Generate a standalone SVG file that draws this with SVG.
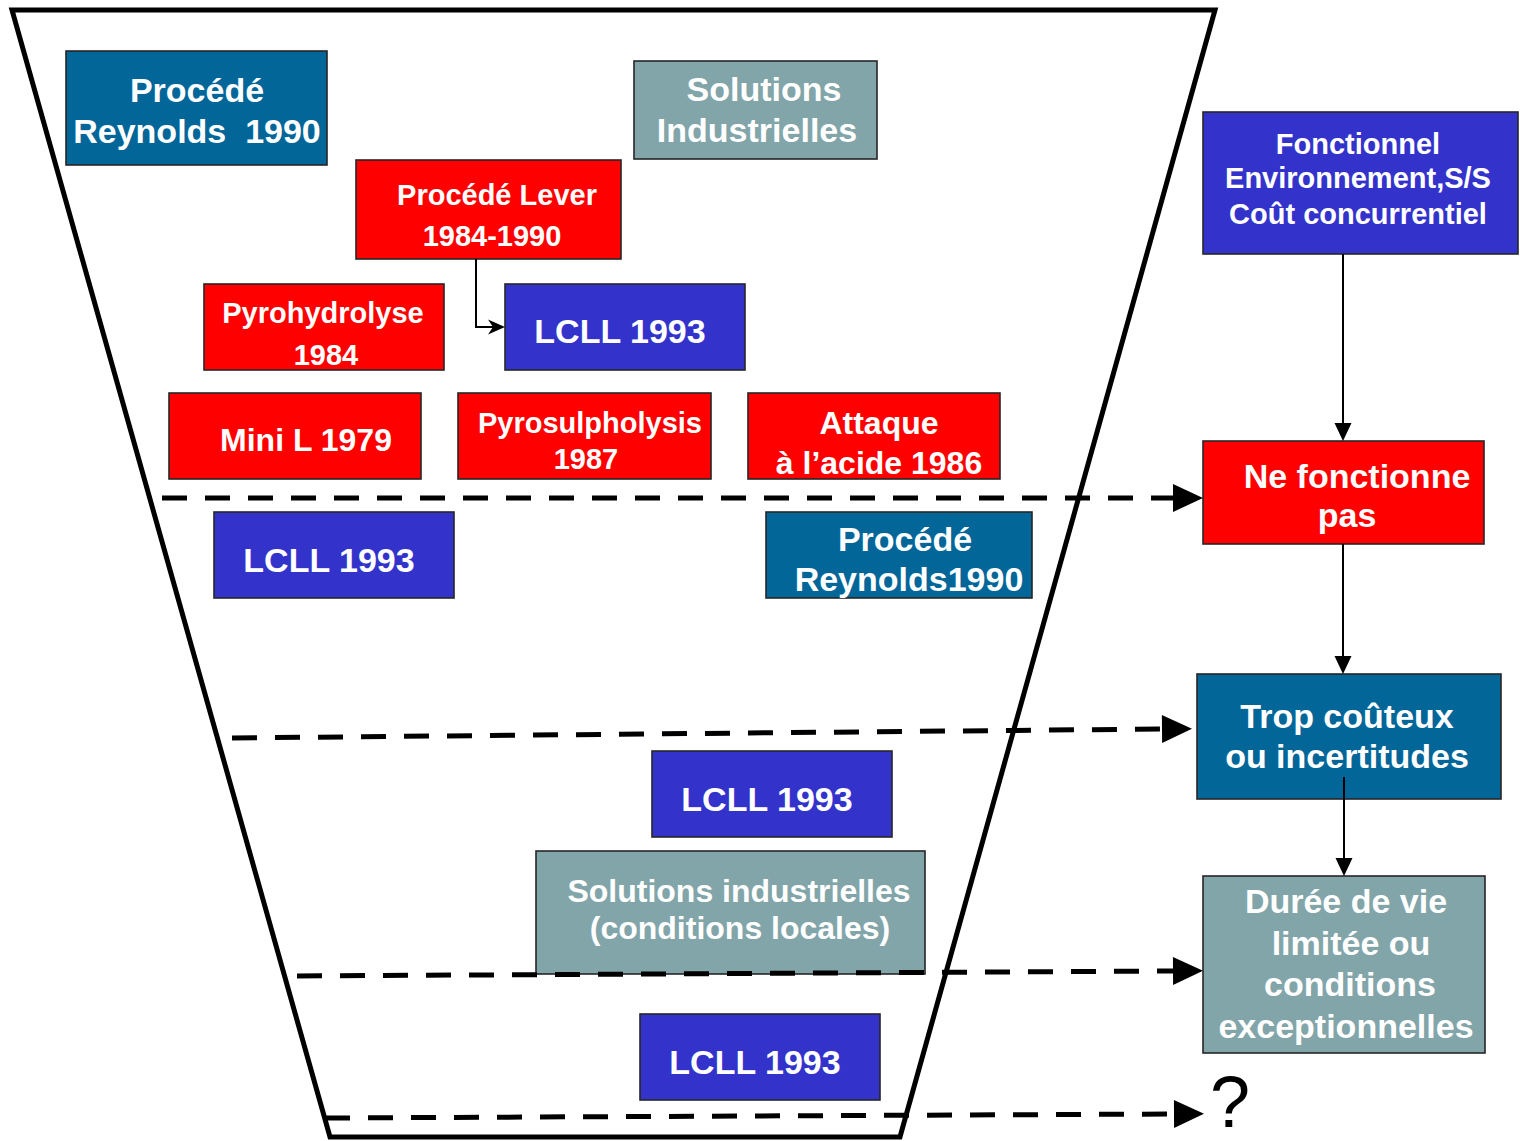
<svg xmlns="http://www.w3.org/2000/svg" width="1520" height="1141" viewBox="0 0 1520 1141">
<style>
.box{stroke:#262626;stroke-width:1.6}
.teal{fill:#036699}
.grey{fill:#82A5AA}
.red{fill:#FF0000}
.blue{fill:#3333CC}
text{font-family:"Liberation Sans",Arial,sans-serif;font-weight:bold;fill:#FFFFFF;text-anchor:middle}
.s29{font-size:29px}
.s32{font-size:32px}
.s34{font-size:34px}
.dash{fill:none;stroke:#000;stroke-width:5;stroke-dasharray:25 18}
.thin{fill:none;stroke:#000;stroke-width:2}
.funnel{fill:none;stroke:#000;stroke-width:5;stroke-linejoin:miter}
</style>
<defs>
<marker id="big" markerUnits="userSpaceOnUse" markerWidth="30" markerHeight="28" refX="0" refY="14" orient="auto" overflow="visible">
<path d="M0,0 L30,14 L0,28 Z" fill="#000"/>
</marker>
<marker id="small" markerUnits="userSpaceOnUse" markerWidth="18" markerHeight="17" refX="0" refY="8.5" orient="auto" overflow="visible">
<path d="M0,0 L18,8.5 L0,17 Z" fill="#000"/>
</marker>
<marker id="stealth" markerUnits="userSpaceOnUse" markerWidth="17" markerHeight="15" refX="5" refY="7.5" orient="auto" overflow="visible">
<path d="M0,0 L17,7.5 L0,15 L5,7.5 Z" fill="#000"/>
</marker>
</defs>
<rect width="1520" height="1141" fill="#FFFFFF"/>

<g id="funnel">
<polygon class="funnel" points="12,10 1215,10 900,1137 330,1137"/>
</g>

<g id="n-reynolds-top">
<rect class="box teal" x="66" y="51" width="261" height="114"/>
<text class="s34" x="197" y="102">Procédé</text>
<text class="s34" x="197" y="143" xml:space="preserve">Reynolds  1990</text>
</g>
<g id="n-solutions-top">
<rect class="box grey" x="634" y="61" width="243" height="98"/>
<text class="s34" x="764" y="101">Solutions</text>
<text class="s34" x="757" y="142">Industrielles</text>
</g>
<g id="n-lever">
<rect class="box red" x="356" y="160" width="265" height="99"/>
<text class="s29" x="497" y="205">Procédé Lever</text>
<text class="s29" x="492" y="246">1984-1990</text>
</g>
<g id="n-lcll-1">
<rect class="box blue" x="505" y="284" width="240" height="86"/>
<text class="s34" x="620" y="343">LCLL 1993</text>
</g>
<g id="n-pyrohydrolyse">
<rect class="box red" x="204" y="284" width="240" height="86"/>
<text class="s29" x="323" y="323">Pyrohydrolyse</text>
<text class="s29" x="326" y="365">1984</text>
</g>
<g id="n-minil">
<rect class="box red" x="169" y="393" width="252" height="86"/>
<text class="s32" x="306" y="451">Mini L 1979</text>
</g>
<g id="n-pyrosulpholysis">
<rect class="box red" x="458" y="393" width="253" height="86"/>
<text class="s29" x="590" y="433">Pyrosulpholysis</text>
<text class="s29" x="586" y="469">1987</text>
</g>
<g id="n-attaque">
<rect class="box red" x="748" y="393" width="252" height="86"/>
<text class="s32" x="879" y="434">Attaque</text>
<text class="s32" x="879" y="474">à l’acide 1986</text>
</g>
<g id="n-lcll-2">
<rect class="box blue" x="214" y="512" width="240" height="86"/>
<text class="s34" x="329" y="572">LCLL 1993</text>
</g>
<g id="n-reynolds-mid">
<rect class="box teal" x="766" y="512" width="266" height="86"/>
<text class="s34" x="905" y="551">Procédé</text>
<text class="s34" x="909" y="591">Reynolds1990</text>
</g>
<g id="n-lcll-3">
<rect class="box blue" x="652" y="751" width="240" height="86"/>
<text class="s34" x="767" y="811">LCLL 1993</text>
</g>
<g id="n-solutions-locales">
<rect class="box grey" x="536" y="851" width="389" height="123"/>
<text class="s32" x="739" y="902">Solutions industrielles</text>
<text class="s32" x="740" y="939">(conditions locales)</text>
</g>
<g id="n-lcll-4">
<rect class="box blue" x="640" y="1014" width="240" height="86"/>
<text class="s34" x="755" y="1074">LCLL 1993</text>
</g>

<g id="n-fonctionnel">
<rect class="box blue" x="1203" y="112" width="315" height="142"/>
<text class="s29" x="1358" y="154">Fonctionnel</text>
<text class="s29" x="1358" y="188">Environnement,S/S</text>
<text class="s29" x="1358" y="224">Coût concurrentiel</text>
</g>
<g id="n-ne-fonctionne-pas">
<rect class="box red" x="1203" y="441" width="281" height="103"/>
<text class="s34" x="1357" y="488">Ne fonctionne</text>
<text class="s34" x="1347" y="527">pas</text>
</g>
<g id="n-trop-couteux">
<rect class="box teal" x="1197" y="674" width="304" height="125"/>
<text class="s34" x="1347" y="728">Trop coûteux</text>
<text class="s34" x="1347" y="768">ou incertitudes</text>
</g>
<g id="n-duree">
<rect class="box grey" x="1203" y="876" width="282" height="177"/>
<text class="s34" x="1346" y="913">Durée de vie</text>
<text class="s34" x="1351" y="955">limitée ou</text>
<text class="s34" x="1350" y="996">conditions</text>
<text class="s34" x="1346" y="1038">exceptionnelles</text>
</g>
<g id="n-question">
<text x="1230" y="1127" style="font-size:72px;font-weight:normal;fill:#000">?</text>
</g>

<g id="connectors">
<path class="thin" d="M476,259 L476,327 L493,327" marker-end="url(#stealth)"/>
<path class="thin" d="M1343,254 L1343,423" marker-end="url(#small)"/>
<path class="thin" d="M1343,544 L1343,656" marker-end="url(#small)"/>
<path class="thin" d="M1344,777 L1344,858" marker-end="url(#small)"/>
<path class="dash" d="M162,498 L1173,498" marker-end="url(#big)"/>
<path class="dash" d="M232,738 L1162,729" marker-end="url(#big)"/>
<path class="dash" d="M297,976 L1173,971" marker-end="url(#big)"/>
<path class="dash" d="M325,1118 L1174,1114" marker-end="url(#big)"/>
</g>
</svg>
